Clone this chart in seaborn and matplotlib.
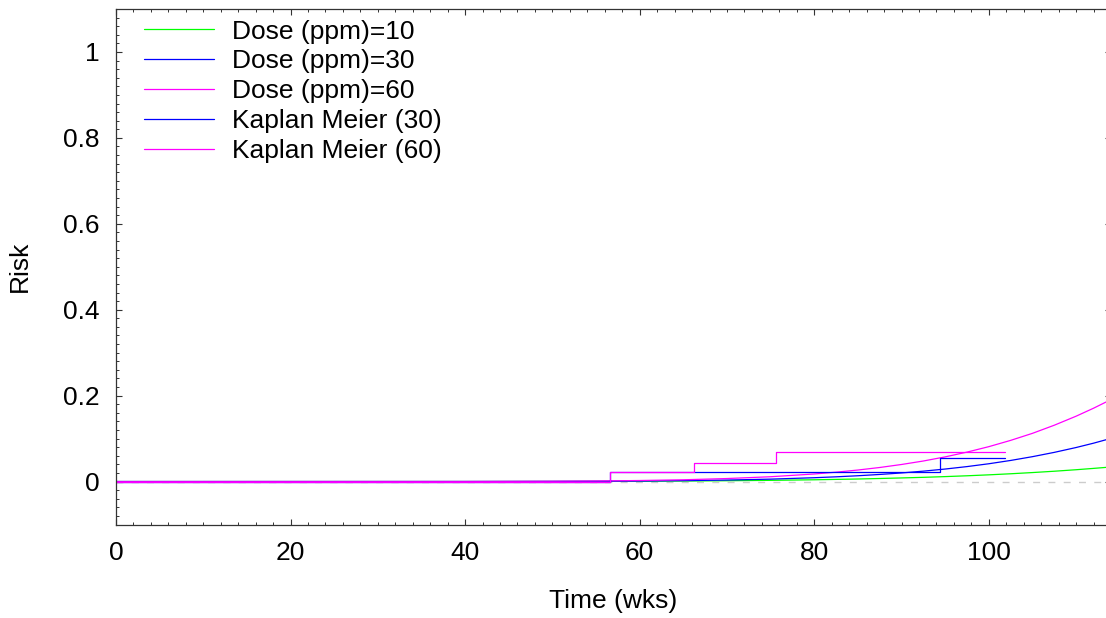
import numpy as np
import pandas as pd
import matplotlib
matplotlib.use("Agg")
import matplotlib.pyplot as plt
from matplotlib.ticker import MultipleLocator, FormatStrFormatter
import seaborn as sns

# Curvas del modelo
tiempo = [0, 40, 50, 55, 60, 65, 70, 75, 80, 82.5, 85, 87.5, 90, 92.5, 95,
          97.5, 100, 102.5, 105, 107.5, 110, 112, 113.7]
riesgo_10 = [0, 0.00007, 0.00025, 0.00044, 0.00073, 0.0012, 0.0019, 0.0028,
             0.0041, 0.0050, 0.0059, 0.0071, 0.0084, 0.0098, 0.0115,
             0.0134, 0.0156, 0.0181, 0.0209, 0.0240, 0.0275, 0.0306, 0.0334]
riesgo_30 = [0, 0.00007, 0.00033, 0.00064, 0.0012, 0.0021, 0.0035, 0.0056,
             0.0089, 0.0110, 0.0135, 0.0165, 0.0200, 0.0242, 0.0291,
             0.0348, 0.0414, 0.0491, 0.0579, 0.0679, 0.0792, 0.0893, 0.0988]
riesgo_60 = [0, 0.00014, 0.0007, 0.0013, 0.0024, 0.0041, 0.0070, 0.0112,
             0.0176, 0.0218, 0.0268, 0.0327, 0.0397, 0.0478, 0.0574,
             0.0685, 0.0812, 0.0958, 0.1122, 0.1311, 0.1521, 0.1707, 0.1878]

# Kaplan Meier (escalones)
km_t_30 = [0, 56.6, 94.4, 101.9]
km_r_30 = [0, 0.022, 0.054, 0.054]
km_t_60 = [0, 56.6, 66.2, 75.6, 101.9]
km_r_60 = [0, 0.022, 0.044, 0.068, 0.068]

sns.set_style("ticks")
plt.rcParams['font.family'] = ['Liberation Sans', 'DejaVu Sans']
plt.rcParams['text.color'] = 'black'
plt.rcParams['axes.labelcolor'] = 'black'
plt.rcParams['xtick.labelcolor'] = 'black'
plt.rcParams['ytick.labelcolor'] = 'black'

fig = plt.figure(figsize=(11.06, 6.18), dpi=100)
ax = fig.add_axes([116/1106, 1 - 524.5/618, 995/1106, (524.5 - 9)/618])

ax.axhline(0, color='#cccccc', lw=1.0, linestyle=(0, (5, 6)), zorder=1)

lw = 0.9
sns.lineplot(x=tiempo, y=riesgo_10, color='#00ff00', lw=lw, ax=ax, label='Dose (ppm)=10')
sns.lineplot(x=tiempo, y=riesgo_30, color='#0000ff', lw=lw, ax=ax, label='Dose (ppm)=30')
sns.lineplot(x=tiempo, y=riesgo_60, color='#ff00ff', lw=lw, ax=ax, label='Dose (ppm)=60')
sns.lineplot(x=km_t_30, y=km_r_30, color='#0000ff', lw=lw, ax=ax,
             drawstyle='steps-post', label='Kaplan Meier (30)')
sns.lineplot(x=km_t_60, y=km_r_60, color='#ff00ff', lw=lw, ax=ax,
             drawstyle='steps-post', label='Kaplan Meier (60)')

ax.set_xlim(0, 114)
ax.set_ylim(-0.1, 1.1)
ax.xaxis.set_major_locator(MultipleLocator(20))
ax.xaxis.set_minor_locator(MultipleLocator(2))
ax.yaxis.set_major_locator(MultipleLocator(0.2))
ax.yaxis.set_minor_locator(MultipleLocator(0.02))
ax.yaxis.set_major_formatter(FormatStrFormatter('%g'))
ax.xaxis.set_major_formatter(FormatStrFormatter('%g'))

ax.tick_params(which='both', direction='in', top=True, right=True, color='#333333')
ax.tick_params(which='major', length=4.5, width=0.8, labelsize=19, pad=12)
ax.tick_params(which='minor', length=2, width=0.7)
for s in ax.spines.values():
    s.set_linewidth(0.9)
    s.set_color('#333333')

ax.set_xlabel('Time (wks)', fontsize=19, labelpad=17)
ax.set_ylabel('Risk', fontsize=19, labelpad=22)

leg = ax.legend(loc='upper left', frameon=False, fontsize=19, handlelength=2.65,
                handletextpad=0.65, labelspacing=0.22, borderaxespad=0.0,
                bbox_to_anchor=(0.018, 1.0))

fig.savefig('out.png', dpi=100)
